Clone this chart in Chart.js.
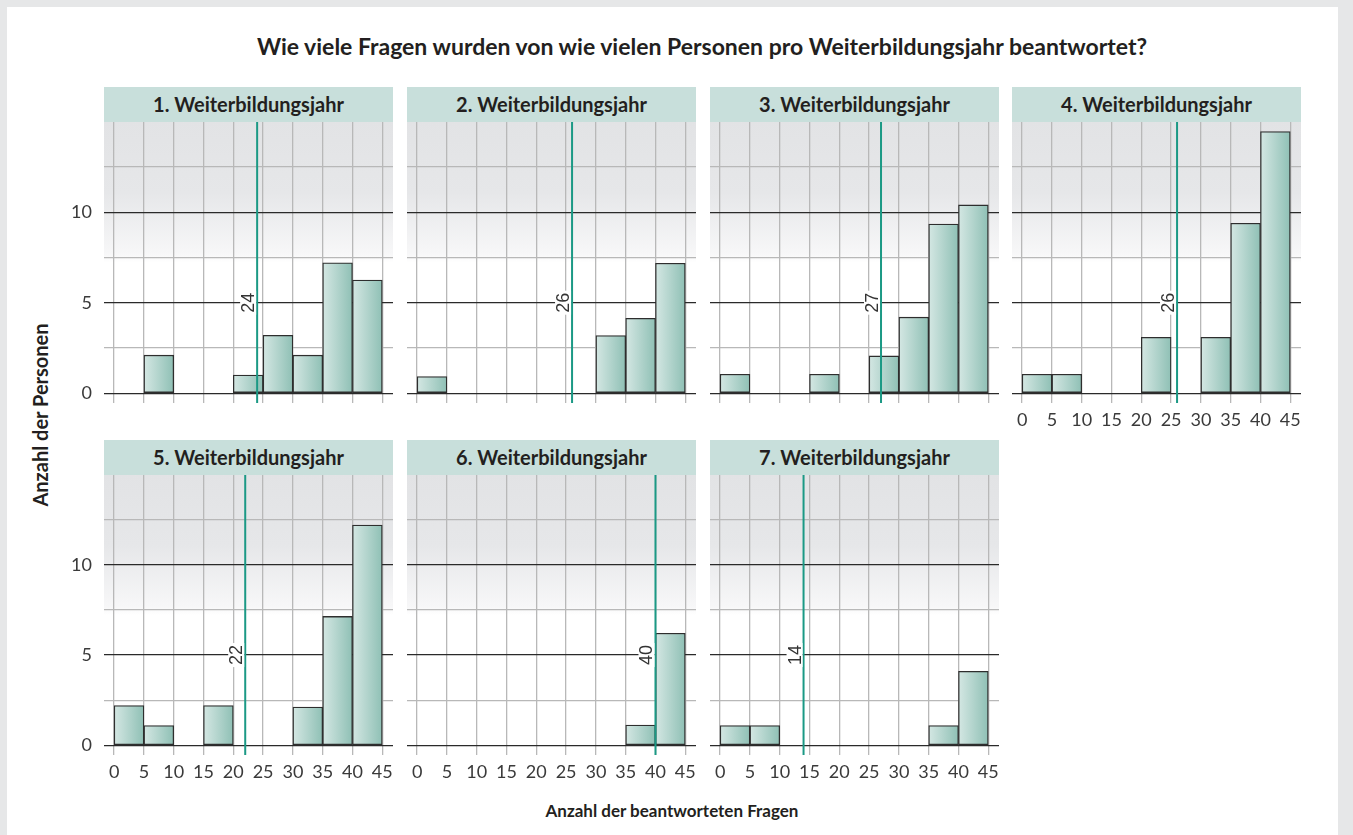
<!DOCTYPE html>
<html>
<head>
<meta charset="utf-8">
<script src="https://cdn.jsdelivr.net/npm/chart.js@4.4.1/dist/chart.umd.min.js"></script>
<style>
body{margin:0;width:1353px;height:835px;overflow:hidden;background:#e6e7e8;font-family:Lato,"Open Sans",sans-serif;color:#231f20;}
#sheet{position:absolute;left:7px;top:7px;width:1331px;height:828px;background:#fff;}
.strip{position:absolute;height:35px;background:#c8dfdb;font-weight:bold;font-size:20px;line-height:35px;text-align:center;}
.txt{position:absolute;font-weight:bold;white-space:nowrap;}
canvas{position:absolute;}
</style>
</head>
<body>
<div id="sheet"></div>
<div class="txt" id="title" style="left:0;width:1404px;top:32px;font-size:23px;text-align:center;">Wie viele Fragen wurden von wie vielen Personen pro Weiterbildungsjahr beantwortet?</div>
<div class="txt" style="left:0;width:1344px;top:800px;font-size:17px;text-align:center;">Anzahl der beantworteten Fragen</div>
<div class="txt" style="left:40px;top:415px;font-size:20px;transform:translate(-50%,-50%) rotate(-90deg);">Anzahl der Personen</div>
<script>
// bins of 5 questions
const binMids = [2.5, 7.5, 12.5, 17.5, 22.5, 27.5, 32.5, 37.5, 42.5];
const xTicks = [0, 5, 10, 15, 20, 25, 30, 35, 40, 45];
const yTicks = [0, 2.5, 5, 7.5, 10, 12.5];
const panelTitles = ['1. Weiterbildungsjahr', '2. Weiterbildungsjahr', '3. Weiterbildungsjahr', '4. Weiterbildungsjahr',
                     '5. Weiterbildungsjahr', '6. Weiterbildungsjahr', '7. Weiterbildungsjahr'];
const year1 = [0, 2.1, 0, 0, 1, 3.2, 2.1, 7.2, 6.25];
const year2 = [0.92, 0, 0, 0, 0, 0, 3.18, 4.14, 7.18];
const year3 = [1.05, 0, 0, 1.05, 0, 2.06, 4.2, 9.34, 10.4];
const year4 = [1.05, 1.05, 0, 0, 3.09, 0, 3.09, 9.39, 14.45];
const year5 = [2.2, 1.09, 0, 2.2, 0, 0, 2.12, 7.14, 12.21];
const year6 = [0, 0, 0, 0, 0, 0, 0, 1.12, 6.21];
const year7 = [1.09, 1.09, 0, 0, 0, 0, 0, 1.09, 4.1];
const medians = [24, 26, 27, 26, 22, 40, 14];

const allYears = [year1, year2, year3, year4, year5, year6, year7];
const colLeft = [104, 407, 710, 1012];
const rows = [{strip: 87, top: 122, h: 281}, {strip: 440, top: 475, h: 280}];
const PW = 289, YW = 40, XH = 30;
const tickFont = {family: 'Lato', size: 18};

// background, bar gradients, median line with its label
const panelDeco = {
    id: 'panelDeco',
    beforeDraw(chart) {
        const ctx = chart.ctx, a = chart.chartArea;
        const g = ctx.createLinearGradient(0, a.top, 0, a.bottom);
        g.addColorStop(0, '#e2e3e5');
        g.addColorStop(0.25, '#e6e7e9');
        g.addColorStop(0.47, '#f7f7f8');
        g.addColorStop(0.5, '#ffffff');
        g.addColorStop(1, '#ffffff');
        ctx.save();
        ctx.fillStyle = g;
        ctx.fillRect(a.left, a.top, a.right - a.left, a.bottom - a.top);
        ctx.restore();
    },
    beforeDatasetsDraw(chart) {
        const ctx = chart.ctx;
        chart.getDatasetMeta(0).data.forEach(bar => {
            const l = bar.x - bar.width / 2, r = bar.x + bar.width / 2;
            if (!isFinite(l) || !isFinite(r)) return;
            const g = ctx.createLinearGradient(l, 0, r, 0);
            g.addColorStop(0, '#d4e7e3');
            g.addColorStop(1, '#8fc0b5');
            bar.options = Object.assign({}, bar.options, {backgroundColor: g});
        });
    },
    afterDatasetsDraw(chart, args, opts) {
        const ctx = chart.ctx, a = chart.chartArea;
        const x = chart.scales.x.getPixelForValue(opts.median);
        const y = chart.scales.y.getPixelForValue(5);
        ctx.save();
        ctx.strokeStyle = '#1b9985';
        ctx.lineWidth = 2;
        ctx.beginPath();
        ctx.moveTo(x, a.top);
        ctx.lineTo(x, a.bottom);
        ctx.stroke();
        const label = String(opts.median);
        ctx.translate(x - 1, y);
        ctx.rotate(-Math.PI / 2);
        ctx.font = '18px "Liberation Sans"';
        const w = ctx.measureText(label).width;
        ctx.fillStyle = '#ffffff';
        ctx.fillRect(-w / 2 - 2, -16, w + 4, 16);
        ctx.fillStyle = '#333333';
        ctx.textAlign = 'center';
        ctx.textBaseline = 'alphabetic';
        ctx.fillText(label, 0, -2);
        ctx.restore();
    }
};

allYears.forEach((counts, i) => {
    const row = rows[i < 4 ? 0 : 1];
    const col = i < 4 ? i : i - 4;
    const showY = col === 0;
    const showX = i >= 3;

    const strip = document.createElement('div');
    strip.className = 'strip';
    strip.style.left = colLeft[col] + 'px';
    strip.style.top = row.strip + 'px';
    strip.style.width = PW + 'px';
    strip.style.height = (row.top - row.strip) + 'px';
    strip.style.lineHeight = (row.top - row.strip) + 'px';
    strip.textContent = panelTitles[i];
    document.body.appendChild(strip);

    const cv = document.createElement('canvas');
    cv.width = PW + YW;
    cv.height = row.h + XH;
    cv.style.left = (colLeft[col] - YW) + 'px';
    cv.style.top = row.top + 'px';
    document.body.appendChild(cv);

    new Chart(cv, {
        type: 'bar',
        data: {
            datasets: [{
                data: binMids.map((m, k) => ({x: m, y: counts[k] || null})),
                backgroundColor: '#b6d6cf',
                borderColor: '#2e2e2e',
                borderWidth: 1.3,
                borderSkipped: false,
                barPercentage: 1,
                categoryPercentage: 1
            }]
        },
        options: {
            responsive: false,
            animation: false,
            devicePixelRatio: 1,
            layout: {padding: 0},
            plugins: {
                legend: {display: false},
                tooltip: {enabled: false},
                panelDeco: {median: medians[i]}
            },
            scales: {
                x: {
                    type: 'linear',
                    min: -1.7,
                    max: 46.8,
                    offset: false,
                    afterBuildTicks: s => { s.ticks = xTicks.map(v => ({value: v})); },
                    afterFit: s => { s.height = XH; s.paddingLeft = 0; s.paddingRight = 0; s.paddingTop = 0; s.paddingBottom = 0; },
                    grid: {color: '#b8b8b8', lineWidth: 1.3, drawTicks: false, offset: false},
                    border: {display: false},
                    ticks: {display: showX, autoSkip: false, maxRotation: 0, padding: 6, color: '#3a3a3a', font: tickFont}
                },
                y: {
                    min: -0.54,
                    max: 14.98,
                    afterBuildTicks: s => { s.ticks = yTicks.map(v => ({value: v})); },
                    afterFit: s => { s.width = YW; s.paddingLeft = 0; s.paddingRight = 0; s.paddingTop = 0; s.paddingBottom = 0; },
                    grid: {
                        color: c => (c.tick && c.tick.value % 5 === 0) ? '#2a2a2a' : '#b8b8b8',
                        lineWidth: 1.3,
                        drawTicks: false
                    },
                    border: {display: false},
                    ticks: {display: showY, padding: 12, color: '#3a3a3a', font: tickFont,
                            callback: v => (v % 5 === 0 ? v : '')}
                }
            }
        },
        plugins: [panelDeco]
    });
});
</script>
</body>
</html>
